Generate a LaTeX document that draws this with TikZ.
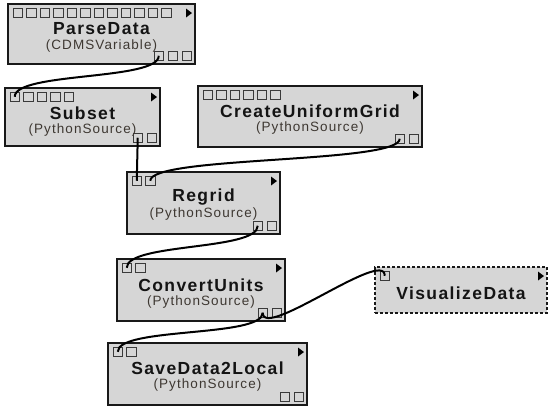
\documentclass[tikz,border=0pt]{standalone}
\usepackage{fontspec}
\setmainfont{Liberation Sans}
\newfontfamily\modtitle[LetterSpace=8]{Liberation Sans}
\newfontfamily\modsub[LetterSpace=8]{Liberation Sans}
\usetikzlibrary{calc}
\definecolor{modfill}{HTML}{D6D6D6}
\definecolor{portedge}{HTML}{3A3A3A}
\definecolor{subtext}{HTML}{3E3832}
\tikzset{
  module/.style={draw=black!90, line width=2.1pt, fill=modfill, inner sep=0pt,
    outer sep=0pt, anchor=north west},
  pendingmodule/.style={module, line width=1.6pt, dash pattern=on 3pt off 2pt},
  port/.style={draw=portedge, line width=0.8pt, fill=modfill, inner sep=0pt,
    outer sep=0pt, minimum size=9.5pt},
  titletext/.style={font=\modtitle\bfseries\fontsize{17.5}{20}\selectfont, text=black!92},
  subtitletext/.style={font=\modsub\fontsize{13.5}{16}\selectfont, text=subtext},
  wire/.style={line width=2pt, black},
}
% module box: [style] name, x, y, width, height, #inputs, #outputs
\newcommand\mkmodule[8][module]{%
  \node[#1, minimum width=#5pt, minimum height=#6pt] (#2) at (#3,#4) {};
  \foreach \i in {1,...,#7}
    \node[port, anchor=north west] (#2-i\i) at ($(#2.north west)+({5+13.5*(\i-1)},4)$) {};
  \ifnum#8>0
    \foreach \j in {1,...,#8}
      \node[port, anchor=south east] (#2-o\j) at ($(#2.south east)+({-3.5-14*(#8-\j)},-3.5)$) {};
  \fi
  \fill ($(#2.north east)+(-9,4.5)$) -- ++(6,4.5) -- ++(-6,4.5) -- cycle;
}
\begin{document}
\begin{tikzpicture}[x=1pt,y=-1pt]
\useasboundingbox (0,0) rectangle (550,410);

% modules
\mkmodule{pd}{8}{4}{187}{60}{12}{3}
\node[titletext] (pd-t) at ($(pd.north)+(0,25)$) {ParseData};
\node[subtitletext] (pd-s) at ($(pd.north)+(0,42)$) {(CDMSVariable)};

\mkmodule{ss}{5}{88}{155}{58}{5}{2}
\node[titletext] (ss-t) at ($(ss.north)+(0,25)$) {Subset};
\node[subtitletext] (ss-s) at ($(ss.north)+(0,42)$) {(PythonSource)};

\mkmodule{cug}{198}{86}{224}{61}{6}{2}
\node[titletext] (cug-t) at ($(cug.north)+(0,25)$) {CreateUniformGrid};
\node[subtitletext] (cug-s) at ($(cug.north)+(0,42)$) {(PythonSource)};

\mkmodule{rg}{127}{172}{153}{62}{2}{2}
\node[titletext] (rg-t) at ($(rg.north)+(0,25)$) {Regrid};
\node[subtitletext] (rg-s) at ($(rg.north)+(0,42)$) {(PythonSource)};

\mkmodule{cu}{117}{259}{168}{62}{2}{2}
\node[titletext] (cu-t) at ($(cu.north)+(0,26)$) {ConvertUnits};
\node[subtitletext] (cu-s) at ($(cu.north)+(0,43)$) {(PythonSource)};

\mkmodule[pendingmodule]{vd}{375}{267}{172}{46}{1}{0}
\node[titletext] (vd-t) at ($(vd.north)+(0,26)$) {VisualizeData};

\mkmodule{sd}{108}{343}{199}{62}{2}{2}
\node[titletext] (sd-t) at ($(sd.north)+(0,25)$) {SaveData2Local};
\node[subtitletext] (sd-s) at ($(sd.north)+(0,42)$) {(PythonSource)};

% connections
\draw[wire] (pd-o1.center) .. controls +(0,25) and +(0,-25) .. (ss-i1.center);
\draw[wire] (ss-o1.center) -- (rg-i1.center);
\draw[wire] (cug-o1.center) .. controls +(0,25) and +(0,-25) .. (rg-i2.center);
\draw[wire] (rg-o1.center) .. controls +(0,25) and +(0,-25) .. (cu-i1.center);
\draw[wire] (cu-o1.center) .. controls +(0,28) and +(0,-28) .. (vd-i1.center);
\draw[wire] (cu-o1.center) .. controls +(0,25) and +(0,-25) .. (sd-i1.center);
\end{tikzpicture}
\end{document}
